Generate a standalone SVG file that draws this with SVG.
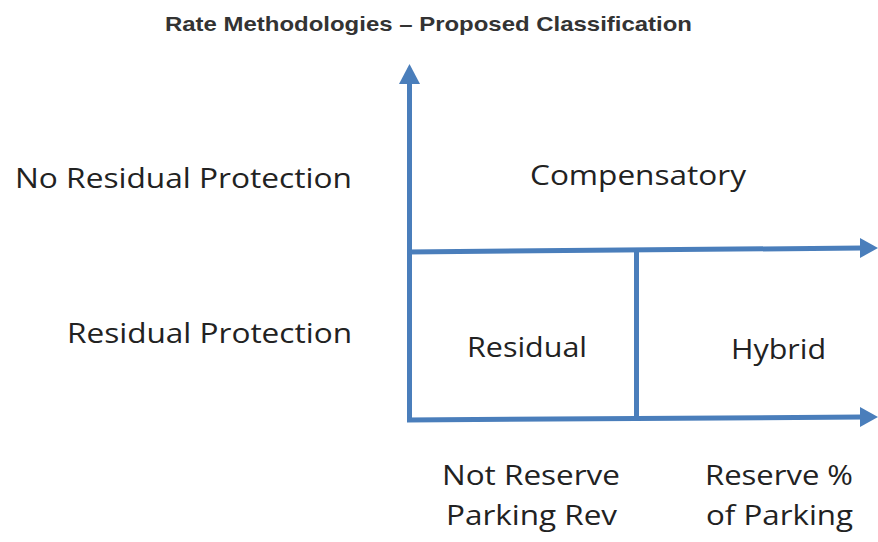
<svg xmlns="http://www.w3.org/2000/svg" width="878" height="542" viewBox="0 0 878 542">
<style>
.t{font-family:"Liberation Sans",Arial,sans-serif;font-weight:bold;font-size:21px;fill:#333}
.l{font-family:"Open Sans","Noto Sans",sans-serif;font-size:27px;fill:#222}
.ax{stroke:#4a7ebb;stroke-width:5;fill:none}
.ah{fill:#4a7ebb}
</style>
<rect width="878" height="542" fill="#fff"/>
<text class="t" x="428.5" y="31" text-anchor="middle" textLength="527" lengthAdjust="spacingAndGlyphs">Rate Methodologies – Proposed Classification</text>
<g id="connectors">
<line class="ax" x1="409.5" y1="420" x2="409.5" y2="80"/>
<polygon class="ah" points="409.5,64 399,84 420,84"/>
<line class="ax" x1="407" y1="252" x2="862" y2="248"/>
<polygon class="ah" points="878,248 860,238 860,258"/>
<line class="ax" x1="407" y1="420" x2="862" y2="417"/>
<polygon class="ah" points="878,417 860,407 860,427"/>
<line class="ax" x1="636.5" y1="250" x2="636.5" y2="418"/>
</g>
<g id="row-labels">
<text class="l" x="352" y="188" text-anchor="end" textLength="337" lengthAdjust="spacingAndGlyphs">No Residual Protection</text>
<text class="l" x="352" y="343" text-anchor="end" textLength="285" lengthAdjust="spacingAndGlyphs">Residual Protection</text>
</g>
<g id="compensatory"><text class="l" x="530" y="185" textLength="216" lengthAdjust="spacingAndGlyphs">Compensatory</text></g>
<g id="residual"><text class="l" x="467" y="357" textLength="120" lengthAdjust="spacingAndGlyphs">Residual</text></g>
<g id="hybrid"><text class="l" x="731" y="359" textLength="95" lengthAdjust="spacingAndGlyphs">Hybrid</text></g>
<g id="col-labels">
<text class="l" x="442" y="485" textLength="178" lengthAdjust="spacingAndGlyphs">Not Reserve</text>
<text class="l" x="446" y="525" textLength="171" lengthAdjust="spacingAndGlyphs">Parking Rev</text>
<text class="l" x="705" y="485" textLength="148" lengthAdjust="spacingAndGlyphs">Reserve %</text>
<text class="l" x="706" y="525" textLength="147" lengthAdjust="spacingAndGlyphs">of Parking</text>
</g>
</svg>
